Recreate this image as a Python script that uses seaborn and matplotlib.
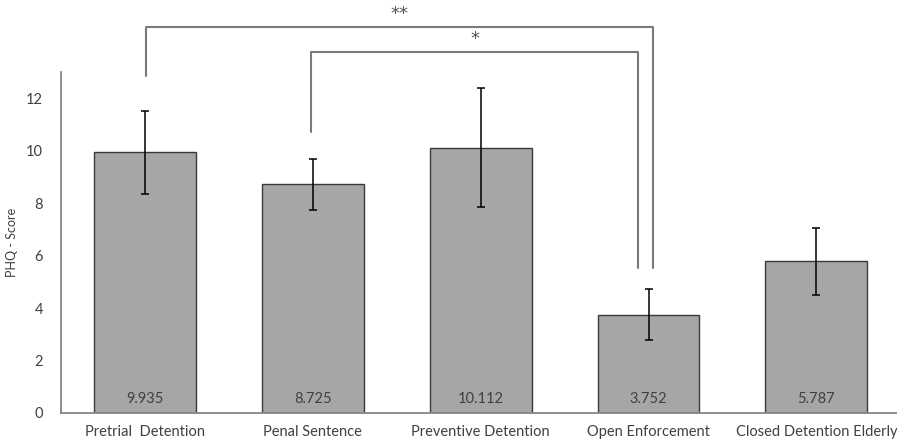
import matplotlib
matplotlib.use("Agg")
import matplotlib.pyplot as plt
import seaborn as sns
import pandas as pd

# --- data ---
categories = ["Pretrial  Detention", "Penal Sentence", "Preventive Detention",
              "Open Enforcement", "Closed Detention Elderly"]
phq_mean = [9.935, 8.725, 10.112, 3.752, 5.787]
phq_err = [1.58, 0.97, 2.27, 0.96, 1.27]
value_labels = ["9.935", "8.725", "10.112", "3.752", "5.787"]

# significance brackets: (left bar, right bar, label)
brackets = [(0, 3, "**"), (1, 3, "*")]

sns.set_style("white")
plt.rcParams["font.family"] = ["Lato", "DejaVu Sans"]

TXT = "#404040"
df = pd.DataFrame({"Gruppe": categories, "PHQ": phq_mean})

fig = plt.figure(figsize=(8.97, 4.45), dpi=100)
ax = fig.add_axes([0.068, 0.072, 0.932, 0.766])

sns.barplot(data=df, x="Gruppe", y="PHQ", color="#a6a6a6", saturation=1,
            width=0.607, edgecolor="#3a3a3a", linewidth=1.0, errorbar=None, ax=ax)
ax.errorbar(range(len(categories)), phq_mean, yerr=phq_err, fmt="none",
            ecolor="black", elinewidth=1.1, capsize=3, capthick=1.1)

for i, lab in enumerate(value_labels):
    ax.text(i, 0.53, lab, ha="center", va="center", fontsize=10.5, color=TXT)

ax.set_ylim(0, 13)
ax.set_xlim(-0.5, 4.48)
ax.set_yticks(range(0, 13, 2))
ax.set_xlabel("")
ax.set_ylabel("PHQ - Score", fontsize=9, color=TXT, labelpad=6)
ax.tick_params(axis="both", length=0, labelsize=10.5, labelcolor=TXT)
ax.tick_params(axis="y", pad=13)
ax.tick_params(axis="x", pad=9)
sns.despine(ax=ax, top=True, right=True)
for s in ["left", "bottom"]:
    ax.spines[s].set_color("#868686")
    ax.spines[s].set_linewidth(1.3)

# brackets drawn above the axes
bk = "#7a7a7a"
star_font = dict(family="DejaVu Sans", fontsize=13, color="#555555")
# ** bracket
ax.plot([0.006, 0.006, 3.024, 3.024], [12.86, 14.73, 14.73, 5.53],
        color=bk, lw=1.5, clip_on=False)
ax.text((0.006 + 3.024) / 2, 15.2, brackets[0][2], ha="center", va="center",
        clip_on=False, **star_font)
# * bracket
ax.plot([0.99, 0.99, 2.94, 2.94], [10.72, 13.78, 13.78, 5.53],
        color=bk, lw=1.5, clip_on=False)
ax.text((0.99 + 2.94) / 2, 14.25, brackets[1][2], ha="center", va="center",
        clip_on=False, **star_font)

fig.savefig("out.png", dpi=100)
